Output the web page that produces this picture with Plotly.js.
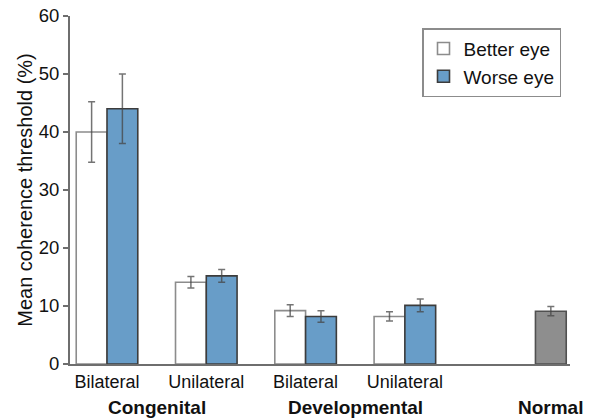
<!DOCTYPE html>
<html>
<head>
<meta charset="utf-8">
<script src="https://cdn.plot.ly/plotly-3.0.1.min.js"></script>
<style>
  html, body { margin: 0; padding: 0; background: #ffffff; }
  #chart { width: 589px; height: 419px; }
</style>
</head>
<body>
<div id="chart"></div>
<script>
// Subtype labels along the axis and the group each pair belongs to
const subtypeLabels = ['Bilateral', 'Unilateral', 'Bilateral', 'Unilateral'];
const subtypePositions = [0, 1, 2, 3];
const groupLabels = ['Congenital', 'Developmental', 'Normal'];
const groupPositions = [0.5, 2.5, 4.47];

// Mean coherence threshold (%) and standard errors
const betterEyeMean = [40.0, 14.1, 9.2, 8.2];
const betterEyeErr  = [5.2, 1.0, 1.0, 0.8];
const worseEyeMean  = [44.0, 15.2, 8.2, 10.1];
const worseEyeErr   = [6.0, 1.1, 1.0, 1.1];
const normalPosition = [4.47];
const normalMean = [9.1];
const normalErr  = [0.8];

const FONT = '"Liberation Sans", Arial, Helvetica, sans-serif';
const BAR_W = 0.31;

const errStyle = (vals) => ({
  type: 'data', array: vals, visible: true,
  color: 'rgba(70,70,70,0.75)', thickness: 1.5, width: 3.5
});

const traces = [
  {
    type: 'bar', name: 'Better eye', legendgroup: 'better',
    x: subtypePositions, y: betterEyeMean,
    width: BAR_W, offset: -BAR_W,
    marker: { color: '#ffffff', line: { color: '#8c8c8c', width: 1.6 } },
    error_y: errStyle(betterEyeErr)
  },
  {
    type: 'bar', name: 'Worse eye', legendgroup: 'worse',
    x: subtypePositions, y: worseEyeMean,
    width: BAR_W, offset: 0,
    marker: { color: '#689dc8', line: { color: '#3c3c3c', width: 1.6 } },
    error_y: errStyle(worseEyeErr)
  },
  {
    type: 'bar', name: 'Normal', showlegend: false,
    x: normalPosition, y: normalMean,
    width: BAR_W, offset: -BAR_W / 2,
    marker: { color: '#8e8e8e', line: { color: '#505050', width: 1.6 } },
    error_y: errStyle(normalErr)
  }
];

// Group names under the subtype labels
const annotations = groupLabels.map((g, i) => ({
  text: '<b>' + g + '</b>',
  x: groupPositions[i], xref: 'x',
  y: -0.126, yref: 'paper',
  xanchor: 'center', yanchor: 'middle',
  showarrow: false,
  font: { family: FONT, size: 19, color: '#111111' }
}));

const layout = {
  width: 589, height: 419,
  margin: { l: 70, r: 19, t: 16, b: 55 },
  paper_bgcolor: '#ffffff', plot_bgcolor: '#ffffff',
  font: { family: FONT, color: '#111111' },
  showlegend: true,
  legend: {
    x: 0.704, y: 0.965, xanchor: 'left', yanchor: 'top',
    bordercolor: '#8c8c8c', borderwidth: 1.5,
    font: { family: FONT, size: 19, color: '#111111' },
    tracegroupgap: 4, traceorder: 'normal'
  },
  xaxis: {
    range: [-0.3726, 4.663],
    tickmode: 'array', tickvals: subtypePositions, ticktext: subtypeLabels,
    ticks: '', showgrid: false, zeroline: false,
    showline: true, linecolor: '#6e6e6e', linewidth: 2,
    tickfont: { family: FONT, size: 18, color: '#111111' },
    fixedrange: true
  },
  yaxis: {
    range: [0, 60], dtick: 10, tick0: 0,
    ticks: 'outside', ticklen: 5, tickwidth: 1.5, tickcolor: '#6e6e6e',
    showgrid: false, zeroline: false,
    showline: true, linecolor: '#6e6e6e', linewidth: 2,
    tickfont: { family: FONT, size: 18.5, color: '#111111' },
    title: { text: 'Mean coherence threshold (%)', standoff: 1,
             font: { family: FONT, size: 20, color: '#111111' } },
    fixedrange: true
  },
  annotations: annotations
};

Plotly.newPlot('chart', traces, layout, { displayModeBar: false, staticPlot: true });
</script>
</body>
</html>
